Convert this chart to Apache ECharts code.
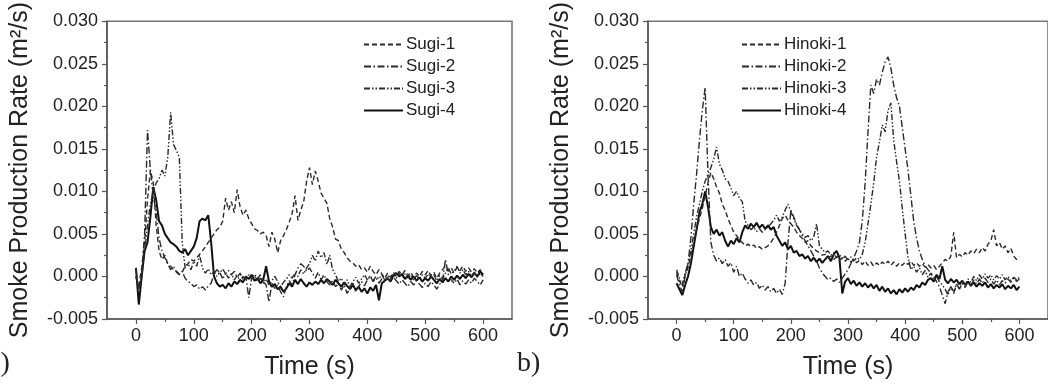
<!DOCTYPE html>
<html>
<head>
<meta charset="utf-8">
<script src="https://cdn.jsdelivr.net/npm/echarts@6/dist/echarts.min.js"></script>
<style>
  html, body { margin: 0; padding: 0; background: #fff; }
  #chart { width: 1048px; height: 390px; }
</style>
</head>
<body>
<div id="chart"></div>
<script>
// time stamps (s), 5 s steps
const times = [
  0, 5, 10, 15, 20, 25, 30, 35, 40, 45,
  50, 55, 60, 65, 70, 75, 80, 85, 90, 95,
  100, 105, 110, 115, 120, 125, 130, 135, 140, 145,
  150, 155, 160, 165, 170, 175, 180, 185, 190, 195,
  200, 205, 210, 215, 220, 225, 230, 235, 240, 245,
  250, 255, 260, 265, 270, 275, 280, 285, 290, 295,
  300, 305, 310, 315, 320, 325, 330, 335, 340, 345,
  350, 355, 360, 365, 370, 375, 380, 385, 390, 395,
  400, 405, 410, 415, 420, 425, 430, 435, 440, 445,
  450, 455, 460, 465, 470, 475, 480, 485, 490, 495,
  500, 505, 510, 515, 520, 525, 530, 535, 540, 545,
  550, 555, 560, 565, 570, 575, 580, 585, 590, 595,
  600
]

const sugi1 = [
  0.000, -0.001, 0.001, 0.004, 0.009, 0.0125, 0.011, 0.006, 0.003, 0.002,
  0.0025, 0.0015, 0.0012, 0.0008, 0.0006, 0.0003, 0.0005, 0.0012, 0.0015, 0.002,
  0.0018, 0.0022, 0.0026, 0.003, 0.0035, 0.004, 0.0045, 0.005, 0.0055, 0.0058,
  0.0065, 0.0092, 0.0078, 0.0088, 0.0075, 0.0102, 0.0082, 0.0072, 0.0078, 0.0068,
  0.0062, 0.0056, 0.0054, 0.005, 0.0052, 0.0048, 0.0035, 0.0052, 0.0044, 0.0028,
  0.0042, 0.0048, 0.0055, 0.0064, 0.0074, 0.0095, 0.0066, 0.0078, 0.0088, 0.0112,
  0.0128, 0.0108, 0.0124, 0.0112, 0.0098, 0.0092, 0.0086, 0.0068, 0.0058, 0.0044,
  0.0042, 0.0032, 0.0028, 0.0022, 0.0018, 0.0016, 0.0012, 0.0014, 0.0008, 0.0010,
  0.0005, 0.0012, 0.0006, 0.0002, 0.0008, 0.0003, -0.0002, 0.0004, -0.0001, 0.0005,
  0.0000, 0.0006, 0.0002, 0.0007, 0.0001, 0.0005, -0.0001, 0.0004, 0.0000, 0.0006,
  0.0002, 0.0007, 0.0001, 0.0005, -0.0002, 0.0004, 0.0008, 0.0012, 0.0006, 0.0010,
  0.0004, 0.0011, 0.0007, 0.0012, 0.0006, 0.0010, 0.0005, 0.0009, 0.0004, 0.0008,
  0.0003
]
const sugi2 = [
  0.000, -0.0015, 0.0005, 0.005, 0.0172, 0.0125, 0.0095, 0.0075, 0.0045, 0.0030,
  0.0022, 0.0015, 0.0008, 0.0012, 0.0005, 0.0002, 0.0006, -0.0002, -0.0006, -0.0008,
  -0.0012, -0.0010, -0.0015, -0.0012, -0.0016, -0.0011, -0.0008, 0.0003, 0.0008, 0.0004,
  0.0009, 0.0003, 0.0007, 0.0002, 0.0006, -0.0001, 0.0004, -0.0004, 0.0000, -0.0025,
  -0.0002, 0.0003, -0.0003, 0.0002, -0.0006, -0.0010, -0.0030, -0.0008, -0.0014, -0.0010,
  -0.0018, -0.0024, -0.0012, -0.0005, -0.0010, 0.0002, 0.0010, 0.0015, 0.0012, 0.0006,
  0.0010, 0.0004, -0.0002, 0.0005, -0.0004, 0.0002, -0.0006, -0.0010, -0.0005, -0.0012,
  -0.0008, -0.0016, -0.0010, -0.0020, -0.0014, -0.0008, -0.0018, -0.0012, -0.0006, -0.0011,
  -0.0004, 0.0000, -0.0006, -0.0002, -0.0008, -0.0003, -0.0007, -0.0002, -0.0006, -0.0001,
  -0.0005, -0.0009, -0.0004, -0.0008, -0.0012, -0.0006, -0.0010, -0.0005, -0.0009, -0.0013,
  -0.0008, -0.0012, -0.0006, -0.0010, -0.0015, -0.0009, -0.0004, 0.0020, 0.0002, -0.0004,
  -0.0008, -0.0003, -0.0010, -0.0005, -0.0009, -0.0004, -0.0008, -0.0002, -0.0006, -0.0010,
  -0.0004
]
const sugi3 = [
  0.001, -0.002, 0.000, 0.003, 0.006, 0.0085, 0.0100, 0.0110, 0.0115, 0.0125,
  0.0118, 0.0140, 0.0193, 0.0155, 0.0148, 0.0140, 0.0040, 0.0010, 0.0015, 0.0008,
  0.0018, 0.0012, 0.0025, 0.0010, 0.0004, 0.0009, 0.0002, 0.0006, 0.0000, 0.0005,
  -0.0003, 0.0004, -0.0002, 0.0003, -0.0004, 0.0001, -0.0005, 0.0000, -0.0004, 0.0002,
  -0.0003, 0.0001, -0.0006, -0.0002, -0.0008, -0.0003, -0.0010, -0.0005, 0.0000, -0.0006,
  -0.0012, -0.0007, -0.0003, 0.0002, -0.0002, 0.0004, 0.0000, 0.0008, 0.0003, 0.0010,
  0.0015, 0.0025, 0.0018, 0.0030, 0.0022, 0.0028, 0.0014, 0.0025, 0.0008, 0.0002,
  -0.0006, -0.0002, -0.0010, -0.0004, -0.0012, -0.0006, -0.0001, -0.0008, -0.0003, 0.0002,
  -0.0004, 0.0001, -0.0005, 0.0000, -0.0003, 0.0002, -0.0004, 0.0001, -0.0003, 0.0003,
  -0.0002, 0.0004, -0.0001, 0.0003, -0.0002, 0.0002, -0.0004, 0.0001, -0.0003, 0.0002,
  -0.0002, 0.0003, -0.0001, 0.0002, -0.0005, 0.0001, -0.0003, 0.0004, 0.0010, 0.0003,
  0.0006, 0.0012, 0.0004, 0.0008, 0.0002, 0.0006, 0.0001, 0.0005, -0.0001, 0.0004,
  0.0000
]
const sugi4 = [
  0.001, -0.0033, 0.000, 0.003, 0.004, 0.007, 0.0105, 0.009, 0.0065, 0.006,
  0.005, 0.0045, 0.004, 0.0038, 0.0035, 0.003, 0.0028, 0.0032, 0.0025, 0.003,
  0.0035, 0.0045, 0.0065, 0.0068, 0.0066, 0.0072, 0.004, 0.000, -0.0008, -0.0012,
  -0.001, -0.0014, -0.0008, -0.0012, -0.0006, -0.0009, -0.0004, -0.0007, 0.0000, -0.0003,
  0.0002, -0.0005, -0.0002, -0.0008, -0.0004, 0.0012, -0.0006, -0.0012, -0.0009, -0.0015,
  -0.0012, -0.0018, -0.0014, -0.0008, -0.0012, -0.0004, -0.0009, -0.0003, -0.0008, -0.0012,
  -0.0007, -0.0010, -0.0006, -0.0009, -0.0004, -0.0008, -0.0003, -0.0006, -0.0010, -0.0004,
  -0.0008, -0.0012, -0.0007, -0.0011, -0.0015, -0.0010, -0.0016, -0.0012, -0.0018, -0.0014,
  -0.0020, -0.0013, -0.0017, -0.0010, -0.0028, -0.0008, -0.0005, -0.0002, -0.0006, 0.0001,
  0.0004, 0.0000, 0.0003, -0.0003, 0.0001, -0.0004, 0.0000, -0.0005, -0.0001, -0.0006,
  -0.0002, -0.0005, 0.0000, -0.0004, -0.0008, -0.0003, -0.0007, -0.0002, -0.0006, 0.0000,
  -0.0004, 0.0001, -0.0003, 0.0002, -0.0002, 0.0003, -0.0001, 0.0004, 0.0000, 0.0006,
  0.0002
]

const hinoki1 = [
  0.0005, -0.0005, -0.0012, 0.0002, 0.0010, 0.0025, 0.0040, 0.0055, 0.0068, 0.0080,
  0.0095, 0.0110, 0.0122, 0.0115, 0.0105, 0.0098, 0.0085, 0.0078, 0.0068, 0.0060,
  0.0052, 0.0048, 0.0043, 0.0040, 0.0036, 0.0038, 0.0035, 0.0037, 0.0033, 0.0035,
  0.0032, 0.0034, 0.0036, 0.0040, 0.0045, 0.0052, 0.0060, 0.0068, 0.0072, 0.0066,
  0.0062, 0.0058, 0.0052, 0.0048, 0.0045, 0.0040, 0.0042, 0.0036, 0.0033, 0.0030,
  0.0028, 0.0025, 0.0026, 0.0022, 0.0024, 0.0020, 0.0023, 0.0019, 0.0022, 0.0018,
  0.0021, 0.0017, 0.0020, 0.0016, 0.0019, 0.0014, 0.0018, 0.0013, 0.0017, 0.0012,
  0.0016, 0.0013, 0.0017, 0.0014, 0.0018, 0.0013, 0.0017, 0.0012, 0.0016, 0.0013,
  0.0017, 0.0014, 0.0018, 0.0013, 0.0016, 0.0012, 0.0015, 0.0011, 0.0014, 0.0010,
  0.0013, 0.0008, 0.0012, 0.0016, 0.0020, 0.0018, 0.0024, 0.0052, 0.0022, 0.0026,
  0.0023, 0.0028, 0.0025, 0.0030, 0.0027, 0.0032, 0.0028, 0.0034, 0.0030, 0.0038,
  0.0042, 0.0055, 0.0036, 0.0040, 0.0032, 0.0036, 0.0028, 0.0033, 0.0024, 0.0020,
  0.0023
]
const hinoki2 = [
  0.0002, -0.0010, -0.0018, 0.0000, 0.0015, 0.0045, 0.0085, 0.0120, 0.0160, 0.0195,
  0.0222, 0.0120, 0.0040, 0.0025, 0.0018, 0.0022, 0.0015, 0.0020, 0.0012, 0.0016,
  0.0005, 0.0012, 0.0000, 0.0004, -0.0003, -0.0008, -0.0004, -0.0010, -0.0007, -0.0014,
  -0.0010, -0.0016, -0.0012, -0.0018, -0.0014, -0.0020, -0.0015, -0.0021, -0.0008, 0.0040,
  0.0078, 0.0070, 0.0062, 0.0055, 0.0048, 0.0042, 0.0036, 0.0030, 0.0024, 0.0018,
  0.0010, 0.0004, 0.0000, -0.0004, -0.0002, -0.0006, -0.0003, -0.0007, -0.0002, 0.0003,
  0.0008, 0.0015, 0.0022, 0.0030, 0.0040, 0.0065, 0.0110, 0.0170, 0.0225, 0.0215,
  0.0232, 0.0225, 0.0240, 0.0252, 0.0258, 0.0245, 0.0225, 0.0210, 0.0200, 0.0175,
  0.0150, 0.0125, 0.0095, 0.0065, 0.0045, 0.0030, 0.0020, 0.0012, 0.0008, 0.0004,
  0.0000, -0.0006, -0.0012, -0.0022, -0.0032, -0.0018, -0.0012, -0.0020, -0.0009, -0.0015,
  -0.0008, -0.0013, -0.0006, -0.0011, -0.0004, -0.0009, -0.0003, -0.0008, -0.0002, -0.0007,
  -0.0003, -0.0009, -0.0004, -0.0010, -0.0005, -0.0008, -0.0003, -0.0007, -0.0002, -0.0006,
  -0.0003
]
const hinoki3 = [
  0.0008, -0.0002, -0.0010, 0.0004, 0.0015, 0.0030, 0.0050, 0.0070, 0.0085, 0.0100,
  0.0112, 0.0120, 0.0128, 0.0138, 0.0152, 0.0132, 0.0125, 0.0115, 0.0112, 0.0104,
  0.0095, 0.0100, 0.0092, 0.0088, 0.0065, 0.0060, 0.0055, 0.0058, 0.0053, 0.0056,
  0.0052, 0.0055, 0.0058, 0.0062, 0.0066, 0.0072, 0.0065, 0.0070, 0.0078, 0.0085,
  0.0076, 0.0068, 0.0060, 0.0055, 0.0050, 0.0046, 0.0048, 0.0042, 0.0046, 0.0062,
  0.0036, 0.0032, 0.0028, 0.0030, 0.0025, 0.0028, 0.0022, 0.0026, 0.0020, 0.0024,
  0.0019, 0.0023, 0.0018, 0.0022, 0.0020, 0.0026, 0.0040, 0.0062, 0.0085, 0.0110,
  0.0140, 0.0158, 0.0178, 0.0170, 0.0195, 0.0204, 0.0160, 0.0135, 0.0112, 0.0080,
  0.0050, 0.0022, 0.0008, 0.0012, 0.0005, 0.0010, 0.0002, 0.0007, -0.0001, 0.0004,
  -0.0004, 0.0000, -0.0006, -0.0010, -0.0015, -0.0022, -0.0012, -0.0018, -0.0009, -0.0014,
  -0.0006, -0.0010, -0.0003, -0.0007, 0.0000, -0.0005, 0.0002, -0.0003, 0.0003, -0.0002,
  0.0002, -0.0004, 0.0001, -0.0003, 0.0002, -0.0004, 0.0000, -0.0005, -0.0001, -0.0004,
  -0.0001
]
const hinoki4 = [
  -0.0008, -0.0015, -0.0022, -0.0010, 0.0000, 0.0015, 0.0035, 0.0055, 0.0075, 0.0085,
  0.0100, 0.0082, 0.0058, 0.0050, 0.0055, 0.0048, 0.0052, 0.0042, 0.0035, 0.0042,
  0.0038, 0.0045, 0.0040, 0.0052, 0.0060, 0.0056, 0.0062, 0.0058, 0.0063, 0.0057,
  0.0061, 0.0056, 0.0060, 0.0055, 0.0058, 0.0048, 0.0042, 0.0036, 0.0040, 0.0032,
  0.0036, 0.0028, 0.0030, 0.0024, 0.0026, 0.0021, 0.0024, 0.0018, 0.0022, 0.0017,
  0.0021, 0.0016, 0.0020, 0.0024, 0.0018, 0.0026, 0.0030, 0.0022, -0.0020, -0.0006,
  -0.0002, -0.0009, -0.0005, -0.0011, -0.0007, -0.0012, -0.0008, -0.0013, -0.0009, -0.0014,
  -0.0010, -0.0017, -0.0012, -0.0018, -0.0014, -0.0020, -0.0016, -0.0021, -0.0015, -0.0019,
  -0.0014, -0.0018, -0.0013, -0.0016, -0.0010, -0.0013, -0.0007, -0.0010, -0.0004, -0.0002,
  -0.0006, 0.0002, -0.0003, 0.0012, -0.0004, -0.0008, -0.0003, -0.0007, -0.0004, -0.0009,
  -0.0005, -0.0010, -0.0006, -0.0011, -0.0007, -0.0012, -0.0008, -0.0011, -0.0007, -0.0013,
  -0.0009, -0.0014, -0.0010, -0.0013, -0.0009, -0.0015, -0.0011, -0.0014, -0.0010, -0.0016,
  -0.0012
]

const xMajorTicks = [0, 100, 200, 300, 400, 500, 600]
const xMinorTicks = [50, 150, 250, 350, 450, 550]

const sugiNames = ['Sugi-1', 'Sugi-2', 'Sugi-3', 'Sugi-4']
const hinokiNames = ['Hinoki-1', 'Hinoki-2', 'Hinoki-3', 'Hinoki-4']

const FONT = '"Liberation Sans", Arial, sans-serif'
const TEXT = '#222'
const AXIS = '#555'

// line styles: dashed, dash-dot, dash-dot-dot, solid
const dashes = [[5, 3], [7, 2.5, 1.5, 2.5], [6, 2, 1.5, 2, 1.5, 2], 'solid']
const widths = [1.4, 1.4, 1.4, 2]

const pairs = vals => times.map((t, i) => [t, vals[i]])

const makeMainX = grid => ({
  type: 'value',
  gridIndex: grid,
  min: -50,
  max: 650,
  interval: 50,
  name: 'Time (s)',
  nameLocation: 'middle',
  nameGap: 36,
  nameTextStyle: { fontFamily: FONT, fontSize: 25, color: TEXT },
  axisLine: { show: true, onZero: false, lineStyle: { color: AXIS, width: 1.5 } },
  axisTick: { show: true, inside: false, length: 5, customValues: xMajorTicks, lineStyle: { color: AXIS, width: 1.2 } },
  axisLabel: { customValues: xMajorTicks, margin: 8, fontFamily: FONT, fontSize: 18, color: TEXT },
  splitLine: { show: false }
})

const makeMinorX = grid => ({
  type: 'value',
  gridIndex: grid,
  min: -50,
  max: 650,
  interval: 50,
  position: 'bottom',
  axisLine: { show: false, onZero: false },
  axisTick: { show: true, inside: false, length: 3, customValues: xMinorTicks, lineStyle: { color: AXIS, width: 1.2 } },
  axisLabel: { show: false },
  splitLine: { show: false }
})

const makeY = grid => ({
  type: 'value',
  gridIndex: grid,
  min: -0.005,
  max: 0.030,
  interval: 0.005,
  name: 'Smoke Production Rate (m²/s)',
  nameLocation: 'middle',
  nameGap: 74,
  nameTextStyle: { fontFamily: FONT, fontSize: 25, color: TEXT },
  axisLine: { show: true, onZero: false, lineStyle: { color: AXIS, width: 1.5 } },
  axisTick: { show: true, inside: false, length: 5, lineStyle: { color: AXIS, width: 1.2 } },
  minorTick: { show: true, splitNumber: 2, length: 3, lineStyle: { color: AXIS, width: 1.2 } },
  axisLabel: {
    margin: 9,
    fontFamily: FONT,
    fontSize: 18,
    color: TEXT,
    formatter: v => v.toFixed(3)
  },
  splitLine: { show: false },
  minorSplitLine: { show: false }
})

const makeSeries = (names, datasets, xIdx, yIdx) =>
  names.map((name, i) => ({
    name,
    type: 'line',
    xAxisIndex: xIdx,
    yAxisIndex: yIdx,
    data: pairs(datasets[i]),
    symbol: 'none',
    showSymbol: false,
    silent: true,
    lineStyle: { color: i === 3 ? '#111' : '#2a2a2a', width: widths[i], type: dashes[i] },
    itemStyle: { color: '#222', opacity: 0 },
    z: 10 - i
  }))

const makeLegend = (names, left) => ({
  data: names,
  orient: 'vertical',
  left,
  top: 29,
  itemWidth: 39,
  itemHeight: 12,
  itemGap: 1,
  selectedMode: false,
  itemStyle: { opacity: 0 },
  textStyle: { fontFamily: FONT, fontSize: 17, color: TEXT, lineHeight: 21, padding: [0, 0, 0, -2] }
})

const chart = echarts.init(document.getElementById('chart'), null, { renderer: 'canvas' })

chart.setOption({
  animation: false,
  backgroundColor: '#fff',
  grid: [
    { left: 107, top: 21, width: 405, height: 298, show: true, borderColor: '#777', borderWidth: 1.6, backgroundColor: 'transparent' },
    { left: 648, top: 21, width: 404, height: 298, show: true, borderColor: '#777', borderWidth: 1.6, backgroundColor: 'transparent' }
  ],
  xAxis: [makeMainX(0), makeMinorX(0), makeMainX(1), makeMinorX(1)],
  yAxis: [makeY(0), makeY(1)],
  legend: [makeLegend(sugiNames, 358), makeLegend(hinokiNames, 736)],
  series: [
    ...makeSeries(sugiNames, [sugi1, sugi2, sugi3, sugi4], 0, 0),
    ...makeSeries(hinokiNames, [hinoki1, hinoki2, hinoki3, hinoki4], 2, 1)
  ],
  graphic: [
    { type: 'text', left: -12, top: 350, style: { text: 'a)', font: '28px "Liberation Serif", serif', fill: TEXT } },
    { type: 'text', left: 517, top: 350, style: { text: 'b)', font: '28px "Liberation Serif", serif', fill: TEXT } }
  ]
})

window.addEventListener('resize', () => chart.resize())
</script>
</body>
</html>
